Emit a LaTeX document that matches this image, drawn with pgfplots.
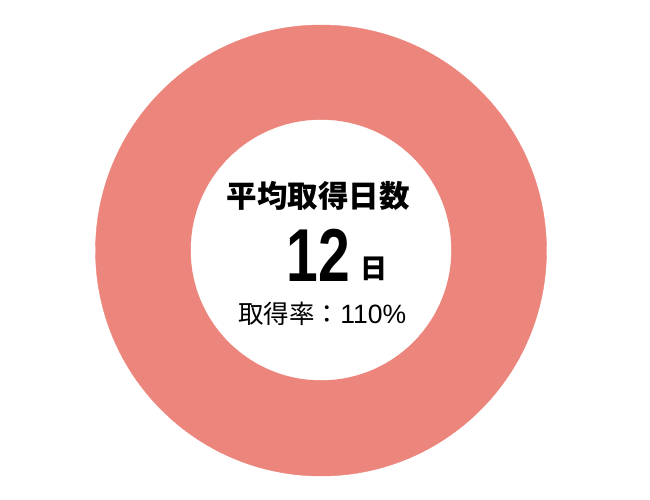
\documentclass[border=0pt]{standalone}
\usepackage{pgfplots}
\pgfplotsset{compat=1.18}
\usepackage{fontspec}
\setmainfont{Noto Sans CJK JP}
\newfontfamily\numfont{Liberation Sans}
\definecolor{ringred}{RGB}{236,133,123}

\begin{document}
\begin{tikzpicture}[x=1bp,y=1bp]
	\useasboundingbox (0,0) rectangle (650,500);
	\begin{axis}[%
	at={(0,0)},anchor=south west,
	width=650bp,height=500bp,
	scale only axis,
	hide axis,
	xmin=0,xmax=650,
	ymin=0,ymax=500,
	y dir=reverse,
	clip=false]
	% donut: one share of 100% (rate 110%, capped)
	\addplot[ringred,only marks,mark=*,mark size=225.5bp,
		mark options={draw=ringred,fill=ringred}]
	coordinates {(321,250.5)};
	\addplot[white,only marks,mark=*,mark size=130bp,
		mark options={draw=white,fill=white}]
	coordinates {(321,250)};
	\coordinate (title) at (axis cs:318,195.5);
	\coordinate (num) at (axis cs:318.3,281.7);
	\coordinate (unit) at (axis cs:374,268.4);
	\coordinate (rate) at (axis cs:322.3,313.4);
	\end{axis}
	\node[inner sep=0,anchor=center,font=\fontsize{30.5bp}{36bp}\selectfont\bfseries]
		at (title) {平均取得日数};
	\node[inner sep=0,anchor=base,font=\fontsize{75bp}{80bp}\selectfont\numfont\bfseries]
		at (num) {\scalebox{0.76}[1]{12}};
	\node[inner sep=0,anchor=center,font=\fontsize{27bp}{32bp}\selectfont\bfseries]
		at (unit) {日};
	\node[inner sep=0,anchor=center,font=\fontsize{25.5bp}{30bp}\selectfont]
		at (rate) {取得率：{\numfont\fontsize{26.5bp}{30bp}\selectfont 110\%}};
\end{tikzpicture}
\end{document}
